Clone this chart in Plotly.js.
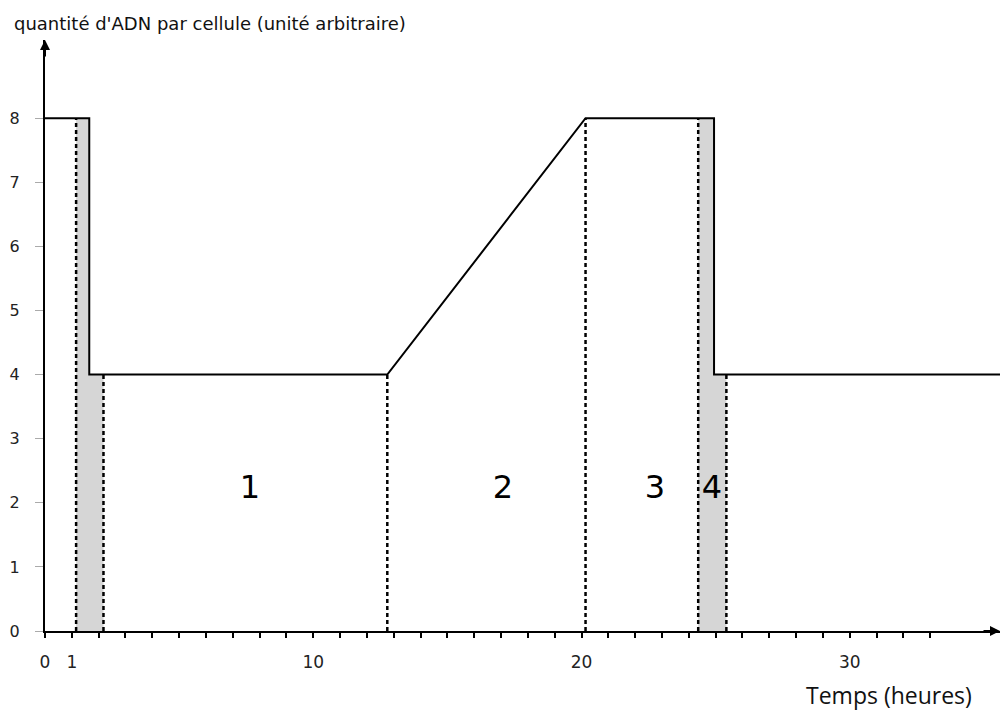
<!DOCTYPE html>
<html>
<head>
<meta charset="utf-8">
<script src="https://cdn.plot.ly/plotly-3.0.1.min.js"></script>
<style>html,body{margin:0;padding:0;background:#fff;}#chart{width:1001px;height:713px;}</style>
</head>
<body>
<div id="chart"></div>
<script>
// DNA quantity curve (time in hours, quantity in arbitrary units)
const curveT = [0, 1.65, 1.65, 12.76, 20.15, 24.94, 24.94, 35.6];
const curveQ = [8, 8, 4, 4, 8, 8, 4, 4];

// dashed phase boundaries and the curve height they reach
const boundaryT = [1.16, 2.18, 12.76, 20.15, 24.35, 25.4];
const boundaryTop = [8, 4, 4, 8, 8, 4];

// shaded (mitosis) zones: start, drop, end
const shadeStart = [1.16, 24.35];
const shadeDrop = [1.65, 24.94];
const shadeEnd = [2.18, 25.4];
const shadeHigh = 8;
const shadeLow = 4;

// phase numbers
const phaseLabels = ['1', '2', '3', '4'];
const phaseT = [7.64, 17.07, 22.74, 24.86];
const phaseQ = [2.2, 2.2, 2.2, 2.2];

// ticks
const xTickVals = [];
for (let i = 0; i <= 33; i++) xTickVals.push(i);
const xTickLabelled = {0: '0', 1: '1', 10: '10', 20: '20', 30: '30'};
const xTickText = xTickVals.map(v => xTickLabelled[v] !== undefined ? xTickLabelled[v] : '');
const yTickVals = [0, 1, 2, 3, 4, 5, 6, 7, 8];

const yTitle = "quantité d'ADN par cellule (unité arbitraire)";
const xTitle = 'Temps (heures)';

const traces = [];

// shaded zones
for (let i = 0; i < shadeStart.length; i++) {
  traces.push({
    x: [shadeStart[i], shadeStart[i], shadeDrop[i], shadeDrop[i], shadeEnd[i], shadeEnd[i], shadeStart[i]],
    y: [0, shadeHigh, shadeHigh, shadeLow, shadeLow, 0, 0],
    mode: 'lines', fill: 'toself', fillcolor: '#d6d6d6',
    line: {width: 0, color: 'rgba(0,0,0,0)'}, hoverinfo: 'skip'
  });
}

// dashed boundaries
const bx = [], by = [];
boundaryT.forEach((t, i) => { bx.push(t, t, null); by.push(0, boundaryTop[i], null); });
traces.push({
  x: bx, y: by, mode: 'lines', connectgaps: false,
  line: {color: '#000', width: 2.5, dash: '4px,3px'}, hoverinfo: 'skip'
});

// main curve
traces.push({
  x: curveT, y: curveQ, mode: 'lines',
  line: {color: '#000', width: 2}, cliponaxis: false
});

// phase labels
traces.push({
  x: phaseT, y: phaseQ, mode: 'text', text: phaseLabels,
  textfont: {family: 'DejaVu Sans', size: 32, color: '#000'}, hoverinfo: 'skip'
});

const layout = {
  width: 1001, height: 713,
  margin: {l: 45, r: 1, t: 40, b: 82},
  paper_bgcolor: '#fff', plot_bgcolor: '#fff',
  showlegend: false,
  xaxis: {
    range: [0, 35.6], showgrid: false, zeroline: false,
    showline: true, linecolor: '#000', linewidth: 2,
    ticks: 'outside', ticklen: 5, tickwidth: 2, tickcolor: '#000',
    tickmode: 'array', tickvals: xTickVals, ticktext: xTickText,
    ticklabelstandoff: 10,
    tickfont: {family: 'DejaVu Sans', size: 17, color: '#222'}
  },
  yaxis: {
    range: [0, 9.22], showgrid: false, zeroline: false,
    showline: true, linecolor: '#000', linewidth: 2,
    ticks: 'outside', ticklen: 8, tickwidth: 1, tickcolor: '#aaa',
    tickmode: 'array', tickvals: yTickVals,
    ticklabelstandoff: 12,
    tickfont: {family: 'DejaVu Sans', size: 16, color: '#222'}
  },
  annotations: [
    {xref: 'paper', yref: 'paper', x: 0, y: 1, ax: 0, ay: 18, text: '',
     showarrow: true, arrowhead: 2, arrowsize: 1, arrowwidth: 2, arrowcolor: '#000'},
    {xref: 'paper', yref: 'paper', x: 1, y: 0, ax: -18, ay: 0, text: '',
     showarrow: true, arrowhead: 2, arrowsize: 1, arrowwidth: 2, arrowcolor: '#000'},
    {xref: 'paper', yref: 'paper', x: -45/955, y: 1, xanchor: 'left', yanchor: 'bottom',
     xshift: 12, yshift: 4, text: yTitle, showarrow: false,
     font: {family: 'DejaVu Sans', size: 18, color: '#111'}},
    {xref: 'paper', yref: 'paper', x: 1, y: 0, xanchor: 'right', yanchor: 'top',
     xshift: -26, yshift: -46, text: xTitle, showarrow: false,
     font: {family: 'Open Sans', size: 23, color: '#111'}}
  ]
};

Plotly.newPlot('chart', traces, layout, {displayModeBar: false, staticPlot: true});
</script>
</body>
</html>
